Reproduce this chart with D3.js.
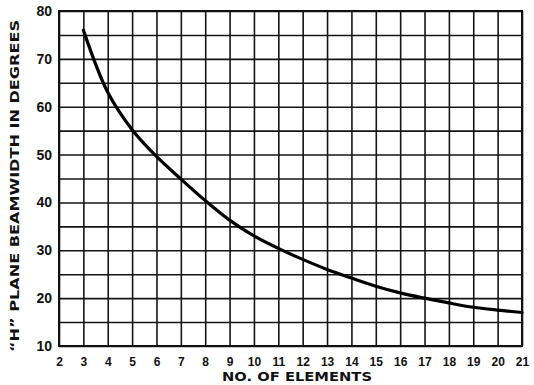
<!DOCTYPE html>
<html>
<head>
<meta charset="utf-8">
<script src="https://cdn.jsdelivr.net/npm/d3@7"></script>
<style>
	body { margin: 0; background: #fff; }
	svg { display: block; }
</style>
</head>
<body>
<svg id="chart"></svg>
<script>
// values
const elements = [3, 4, 5, 6, 7, 8, 9, 10, 11, 12, 13, 14, 15, 16, 17, 18, 19, 20, 21];
const beamwidth = [76, 63, 55.2, 49.6, 44.9, 40.4, 36.3, 33, 30.4, 28.1, 26, 24.2, 22.5, 21.1, 20, 19, 18.1, 17.5, 17];

const xTicks = [2, 3, 4, 5, 6, 7, 8, 9, 10, 11, 12, 13, 14, 15, 16, 17, 18, 19, 20, 21];
const yGrid = [10, 15, 20, 25, 30, 35, 40, 45, 50, 55, 60, 65, 70, 75, 80];
const yLabels = [10, 20, 30, 40, 50, 60, 70, 80];

const xTitle = "NO. OF ELEMENTS";
const yTitle = "\u201CH\u201D PLANE BEAMWIDTH IN DEGREES";

class Chart {
	constructor(_config) {
		this.config = {
			parentElement: _config.parentElement,
			containerWidth: 534,
			containerHeight: 385,
			margin: {top: 11, bottom: 39, right: 12, left: 59}
		};
		this.initVis();
	}

	initVis() {
		let vis = this;
		const m = vis.config.margin;
		vis.width = vis.config.containerWidth - m.left - m.right;
		vis.height = vis.config.containerHeight - m.top - m.bottom;

		vis.svg = d3.select(vis.config.parentElement)
			.attr("width", vis.config.containerWidth)
			.attr("height", vis.config.containerHeight)
			.style("font-family", "'DejaVu Sans', sans-serif");

		vis.g = vis.svg.append("g")
			.attr("transform", `translate(${m.left},${m.top})`);

		vis.x = d3.scaleLinear().domain([2, 21]).range([0, vis.width]);
		vis.y = d3.scaleLinear().domain([10, 80]).range([vis.height, 0]);

		// vertical grid + labels
		vis.g.append("g")
			.attr("class", "x-axis")
			.attr("transform", `translate(0,${vis.height})`)
			.call(d3.axisBottom(vis.x)
				.tickValues(xTicks)
				.tickSize(-vis.height)
				.tickPadding(11)
				.tickFormat(d3.format("d")));

		// horizontal grid + labels
		vis.g.append("g")
			.attr("class", "y-axis")
			.call(d3.axisLeft(vis.y)
				.tickValues(yGrid)
				.tickSize(-vis.width)
				.tickPadding(7)
				.tickFormat(d => yLabels.includes(d) ? d : ""));

		vis.g.selectAll(".tick line")
			.attr("stroke", "#151515")
			.attr("stroke-width", 1.6);
		vis.g.selectAll(".domain").remove();
		vis.g.selectAll(".tick text")
			.attr("fill", "#111")
			.style("font-weight", "bold")
			.style("font-size", "12px");
		vis.g.selectAll(".y-axis .tick text").style("font-size", "14px");

		// frame
		vis.g.append("rect")
			.attr("width", vis.width)
			.attr("height", vis.height)
			.attr("fill", "none")
			.attr("stroke", "#111")
			.attr("stroke-width", 2);

		// curve
		const line = d3.line()
			.x((d, i) => vis.x(d))
			.y((d, i) => vis.y(beamwidth[i]))
			.curve(d3.curveCatmullRom.alpha(0.5));

		vis.g.append("path")
			.datum(elements)
			.attr("fill", "none")
			.attr("stroke", "#000")
			.attr("stroke-width", 3.2)
			.attr("stroke-linecap", "round")
			.attr("d", line);

		// titles
		vis.svg.append("text")
			.attr("x", 297)
			.attr("y", 381)
			.attr("text-anchor", "middle")
			.attr("textLength", 150)
			.attr("lengthAdjust", "spacingAndGlyphs")
			.style("font-weight", "bold")
			.style("font-size", "12px")
			.attr("fill", "#111")
			.text(xTitle);

		vis.svg.append("text")
			.attr("transform", "translate(19,186) rotate(-90)")
			.attr("text-anchor", "middle")
			.attr("textLength", 332)
			.attr("lengthAdjust", "spacingAndGlyphs")
			.style("font-weight", "bold")
			.style("font-size", "13px")
			.attr("fill", "#111")
			.text(yTitle);
	}
}

new Chart({parentElement: "#chart"});
</script>
</body>
</html>
